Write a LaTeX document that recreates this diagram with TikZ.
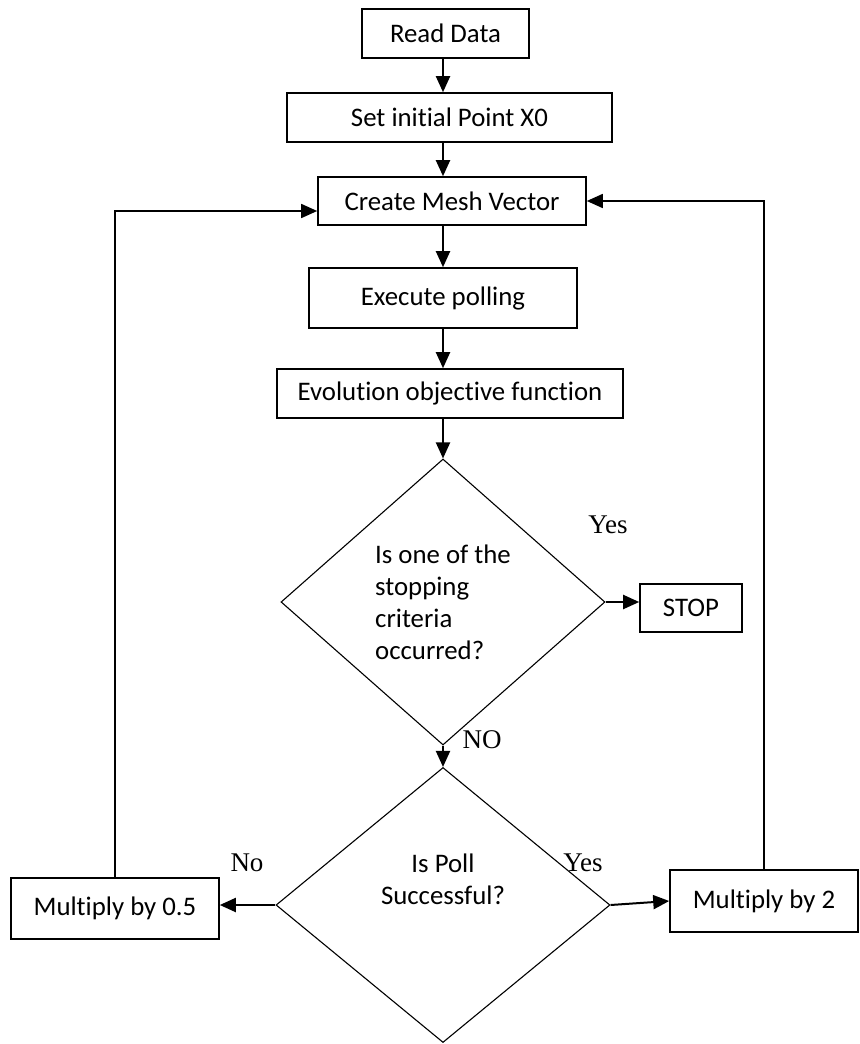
\documentclass[tikz,border=0pt]{standalone}
\usepackage{fontspec}
\setmainfont{Carlito}[Ligatures={NoCommon, NoRare}]
\newfontfamily\timesfont{Liberation Serif}
\usepackage{tikz}
\usetikzlibrary{shapes.geometric, arrows.meta, positioning, calc}
\tikzstyle{arrow} = [line width=1pt, -{Triangle[length=8pt,width=7pt]}]
\tikzstyle{process} = [rectangle, draw=black, line width=0.8pt, inner sep=0pt, text centered, font=\fontsize{13.4}{16}\selectfont]
\tikzstyle{decision} = [diamond, draw=black, line width=0.55pt, inner sep=0pt, align=left, font=\fontsize{13.4}{16}\selectfont]
\tikzstyle{answer} = [inner sep=0pt, font=\timesfont\fontsize{13.5}{15}\selectfont]

\begin{document}
\begin{tikzpicture}[x=0.5pt, y=-0.5pt]
\useasboundingbox (0,0) rectangle (859,1044);
\coordinate (axis) at (443,0);

% main column
\node[process, minimum width=83.5pt, minimum height=24.5pt] (read) at (445.5,33.5) {Read Data};
\node[process, minimum width=162.5pt, minimum height=24.5pt] (init) at (449.5,117.5) {Set initial Point X0};
\node[process, minimum width=134pt, minimum height=24pt] (mesh) at (452,201) {Create Mesh Vector};
\node[process, minimum width=134pt, minimum height=30pt] (poll) at (443,298) {Execute polling};
\node[process, minimum width=173pt, minimum height=24.5pt] (evol) at (450,393.5) {Evolution objective function};

% decisions
\node[decision, minimum width=162pt, minimum height=143pt] (stopq) at (443,602) {Is one of the\\stopping\\criteria\\occurred?};
\node[process, minimum width=51pt, minimum height=24pt] (stop) at (691,608) {STOP};
\node[decision, align=center, text depth=26pt, minimum width=167pt, minimum height=137.5pt] (pollq) at (443,905) {Is Poll\\Successful?};
\node[process, minimum width=104pt, minimum height=30.5pt] (half) at (115,908.5) {Multiply by 0.5};
\node[process, minimum width=94pt, minimum height=31pt] (double) at (764,901) {Multiply by 2};

% answers
\node[answer] (yes1) at (608,525) {Yes};
\node[answer] (no1) at (482,740) {NO};
\node[answer] (no2) at (247,863) {No};
\node[answer] (yes2) at (583,863) {Yes};

% connectors
\draw[arrow] (axis |- read.south) -- (axis |- init.north);
\draw[arrow] (axis |- init.south) -- (axis |- mesh.north);
\draw[arrow] (axis |- mesh.south) -- (axis |- poll.north);
\draw[arrow] (axis |- poll.south) -- (axis |- evol.north);
\draw[arrow] (axis |- evol.south) -- (stopq.north);
\draw[arrow] (stopq.east) -- (stopq.east -| stop.west);
\draw[arrow] (stopq.south) -- (pollq.north);
\draw[arrow] (pollq.west) -- (pollq.west -| half.east);
\draw[arrow] (pollq.east) -- (double.west);
\draw[arrow, line width=0.8pt] (half.north) |- ([yshift=-5pt]mesh.west);
\draw[arrow, line width=0.8pt] (double.north) |- (mesh.east);
\end{tikzpicture}
\end{document}
